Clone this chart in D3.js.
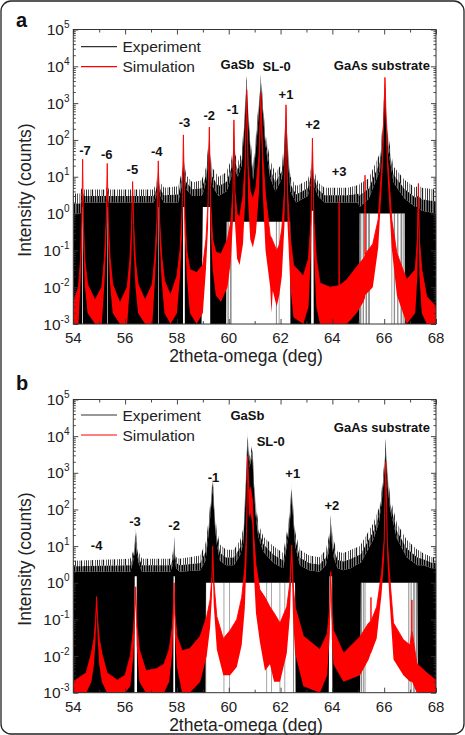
<!DOCTYPE html>
<html>
<head>
<meta charset="utf-8">
<script src="https://cdn.jsdelivr.net/npm/d3@7"></script>
<style>
  body { margin: 0; background: #fff; }
  svg { display: block; font-family: "Liberation Sans", Arial, sans-serif; }
</style>
</head>
<body>
<div id="chart"></div>
<script>
// ---- data ----
const xTickValues = [54, 56, 58, 60, 62, 64, 66, 68];
const yExponents = [-3, -2, -1, 0, 1, 2, 3, 4, 5];
const legendItems = [["Experiment", "#333"], ["Simulation", "#ff0000"]];

// experiment: [2theta, noise top, dense top, lower edge]
const expA = [
  [54.00, 3.5, 1, 0.001], [54.28, 3.5, 1, 0.001], [54.30, 4.5, 2, 0.001],
  [54.345, 5, 2.5, 0.001], [54.35, 5.4, 3, 1.5], [54.37, 5.4, 3, 1.5], [54.375, 5, 2.5, 0.001],
  [54.42, 4.5, 2, 0.001], [55.25, 4.5, 2, 0.001], [55.30, 5.4, 3, 0.001], [55.305, 5.4, 3, 1.5],
  [55.32, 5.4, 3, 1.5], [55.325, 5.4, 3, 0.001], [55.37, 4.5, 2, 0.001], [57.10, 4.5, 2, 0.001],
  [57.20, 7, 3, 0.001], [57.27, 14, 6, 0.001], [57.275, 16, 7, 1.5], [57.29, 18, 9, 1.5],
  [57.295, 12, 6, 0.001], [57.36, 7, 3, 0.001], [57.50, 5, 2, 0.001], [58.05, 5.5, 2, 0.001],
  [58.17, 12, 5, 0.001], [58.235, 28, 13, 0.001], [58.24, 30, 14, 1.5], [58.25, 59, 30, 1.5],
  [58.30, 20, 10, 1.5], [58.305, 18, 9, 0.001], [58.36, 11, 4.5, 0.001], [58.60, 7, 3, 0.001],
  [58.95, 8, 3, 0.001], [59.00, 10, 3.5, 1.5], [59.12, 18, 7, 1.5], [59.20, 60, 25, 1.5],
  [59.25, 220, 110, 1.5], [59.28, 60, 25, 1.5], [59.285, 55, 22, 0.001], [59.35, 18, 6, 0.001],
  [59.60, 10, 3, 0.001], [59.90, 13, 4, 0.001], [59.92, 14, 4, 0.6], [60.10, 30, 10, 0.6],
  [60.16, 60, 25, 0.6], [60.20, 350, 170, 0.6], [60.25, 40, 15, 0.6], [60.35, 25, 10, 0.6],
  [60.50, 45, 20, 0.6], [60.60, 400, 200, 0.6], [60.69, 5500, 3000, 0.6], [60.80, 200, 100, 0.6],
  [60.94, 19, 8, 0.6], [61.10, 350, 150, 0.6], [61.24, 5900, 3000, 0.6], [61.40, 185, 90, 0.6],
  [61.59, 29, 10, 0.6], [61.80, 12.6, 4, 0.6], [62.05, 23, 9, 0.6], [62.14, 80, 35, 0.6],
  [62.21, 900, 450, 0.6], [62.29, 60, 25, 0.6], [62.37, 12, 5, 0.6], [62.38, 10, 4, 0.001],
  [62.60, 5.5, 2, 0.001], [63.05, 8, 3, 0.001], [63.18, 18, 7, 0.001], [63.19, 20, 8, 1.2],
  [63.23, 54, 25, 1.2], [63.27, 18, 7, 1.2], [63.28, 16, 6, 0.001], [63.45, 7, 3, 0.001],
  [63.70, 5, 2, 0.001], [64.60, 5, 2, 0.001], [65.00, 6, 2, 0.001], [65.04, 6, 1.5, 0.001],
  [65.05, 6.5, 1.5, 1], [65.40, 9, 2.5, 1], [65.84, 44, 15, 1], [65.95, 350, 150, 1],
  [66.03, 5000, 2500, 1], [66.10, 350, 150, 1], [66.16, 123, 50, 1], [66.36, 19, 7, 1],
  [66.80, 8, 2.5, 1], [66.81, 8, 2.5, 0.001], [67.20, 5, 1.5, 0.001], [67.32, 6, 1.5, 0.001],
  [67.45, 5, 1.2, 0.001], [68.00, 4.5, 1, 0.001]
];

// simulation: [2theta, upper edge, lower edge]
const simA = [
  [54.00, 0.004, 0.001], [54.20, 0.010, 0.001], [54.28, 0.06, 0.012], [54.33, 0.6, 0.15],
  [54.36, 30, 10], [54.39, 0.6, 0.15], [54.44, 0.06, 0.012], [54.55, 0.012, 0.002],
  [54.84, 0.0045, 0.001], [55.10, 0.010, 0.001], [55.20, 0.06, 0.012], [55.27, 0.6, 0.15],
  [55.31, 23, 8], [55.35, 0.6, 0.15], [55.42, 0.06, 0.012], [55.52, 0.012, 0.002],
  [55.80, 0.0037, 0.001], [56.08, 0.010, 0.001], [56.18, 0.05, 0.01], [56.25, 0.5, 0.1],
  [56.29, 7.4, 3], [56.33, 0.5, 0.1], [56.40, 0.05, 0.01], [56.50, 0.012, 0.002],
  [56.77, 0.0045, 0.001], [57.05, 0.012, 0.001], [57.15, 0.07, 0.015], [57.23, 0.7, 0.2],
  [57.28, 27, 9], [57.33, 0.7, 0.2], [57.41, 0.07, 0.015], [57.52, 0.015, 0.002],
  [57.75, 0.006, 0.001], [58.00, 0.02, 0.002], [58.12, 0.1, 0.02], [58.20, 1.2, 0.3],
  [58.25, 137, 50], [58.30, 1.2, 0.3], [58.38, 0.1, 0.02], [58.50, 0.03, 0.002],
  [58.76, 0.025, 0.001], [59.00, 0.04, 0.002], [59.12, 0.2, 0.03], [59.20, 2, 0.4],
  [59.25, 225, 80], [59.30, 2, 0.4], [59.38, 0.2, 0.03], [59.50, 0.09, 0.006],
  [59.70, 0.08, 0.004], [59.95, 0.2, 0.01], [60.08, 0.6, 0.05], [60.16, 4, 0.6],
  [60.20, 350, 120], [60.24, 4, 0.6], [60.32, 1.0, 0.06], [60.42, 0.8, 0.04],
  [60.55, 3, 0.15], [60.63, 20, 2], [60.69, 2300, 800], [60.75, 20, 2],
  [60.83, 4, 0.2], [60.93, 2.5, 0.12], [61.05, 5, 0.3], [61.17, 40, 4],
  [61.24, 1900, 600], [61.31, 40, 4], [61.42, 3, 0.1], [61.60, 0.25, 0.01],
  [61.65, 0.22, 0.002], [61.70, 0.18, 0.008], [61.85, 0.1, 0.003], [61.95, 0.14, 0.006],
  [62.05, 0.4, 0.02], [62.15, 4, 0.5], [62.21, 900, 300],
  [62.27, 4, 0.5], [62.38, 0.2, 0.01], [62.50, 0.04, 0.0015], [62.88, 0.02, 0.001],
  [63.08, 0.06, 0.003], [63.17, 0.6, 0.08], [63.23, 112, 40], [63.29, 0.6, 0.08],
  [63.38, 0.06, 0.003], [63.52, 0.013, 0.001], [63.91, 0.01, 0.001], [64.255, 0.011, 0.001],
  [64.26, 2.1, 0.001], [64.265, 0.011, 0.001], [64.56, 0.016, 0.001], [64.94, 0.036, 0.002],
  [65.20, 0.06, 0.004], [65.255, 0.07, 0.005], [65.26, 11, 0.005], [65.265, 0.08, 0.006],
  [65.56, 0.15, 0.01], [65.77, 0.7, 0.12], [65.94, 44, 15], [65.99, 500, 200],
  [66.03, 5000, 2000], [66.07, 500, 200], [66.12, 44, 15], [66.29, 0.7, 0.12],
  [66.49, 0.085, 0.006], [66.87, 0.016, 0.001], [67.20, 0.03, 0.002], [67.28, 0.2, 0.02],
  [67.32, 6.6, 1], [67.36, 0.2, 0.02], [67.45, 0.03, 0.002], [67.64, 0.0055, 0.001],
  [68.00, 0.003, 0.001]
];

// ranges where the experiment trace only drops out now and then (grey stripes)
const greyA = [
  [59.95, 60.0], [60.05, 60.11], [61.82, 61.86], [61.93, 61.96], [65.05, 65.12], [65.17, 65.22],
  [65.28, 65.34], [65.38, 65.45], [66.28, 66.31], [66.37, 66.42], [66.5, 66.55], [66.63, 66.7],
  [66.74, 66.79]
];

// peak labels: [text, 2theta, intensity at baseline]
const peakLabelsA = [
  ["-7", 54.45, 39], ["-6", 55.29, 30.5], ["-5", 56.28, 11.9], ["-4", 57.22, 36.7],
  ["-3", 58.29, 225], ["-2", 59.25, 349], ["-1", 60.15, 493], ["GaSb", 60.34, 8240],
  ["SL-0", 61.85, 7500], ["+1", 62.21, 1300], ["+2", 63.24, 193], ["+3", 64.26, 10.5],
  ["GaAs substrate", 65.91, 7740]
];

const expB = [
  [54.00, 4, 2, 0.001], [56.20, 4.5, 2, 0.001], [56.30, 7, 3.5, 0.001], [56.36, 12, 6, 0.001],
  [56.37, 13, 6, 1.5], [56.41, 31, 16, 1.5], [56.45, 13, 6, 1.5], [56.46, 12, 6, 0.001],
  [56.52, 7, 3.5, 0.001], [56.65, 4.5, 2, 0.001], [57.75, 4.5, 2, 0.001], [57.83, 6, 3, 0.001],
  [57.86, 9, 4.5, 0.001], [57.87, 10, 5, 1.5], [57.89, 18, 9, 1.5], [57.92, 9, 4.5, 1.5],
  [57.93, 8, 4, 0.001], [57.97, 5, 2.5, 0.001], [58.10, 4.5, 2, 0.001], [58.90, 5.5, 2.2, 0.001],
  [59.10, 12, 4, 0.001], [59.12, 14, 5, 1], [59.21, 43, 18, 1], [59.30, 180, 80, 1],
  [59.38, 780, 400, 1], [59.46, 90, 40, 1], [59.54, 27, 11, 1], [59.66, 11, 4, 1],
  [59.90, 8, 3, 1], [60.20, 8, 3, 1], [60.45, 15, 6, 1], [60.56, 30, 12, 1],
  [60.64, 340, 150, 1], [60.73, 14000, 7000, 1], [60.80, 2800, 1400, 1], [60.91, 5700, 3000, 1],
  [60.97, 900, 400, 1], [61.03, 180, 80, 1], [61.14, 42, 18, 1], [61.34, 18, 7, 1],
  [61.72, 10, 3.5, 1], [62.10, 6.5, 2.5, 1], [62.30, 43, 18, 1], [62.38, 150, 70, 1],
  [62.43, 520, 260, 1], [62.49, 110, 50, 1], [62.56, 27, 11, 1], [62.58, 22, 9, 0.001],
  [62.75, 8, 3, 0.001], [63.10, 5.5, 2.2, 0.001], [63.50, 5, 2, 0.001], [63.75, 8, 3, 0.001],
  [63.86, 18, 7, 0.001], [63.89, 25, 10, 1.5], [63.94, 70, 35, 1.5], [63.99, 25, 10, 1.5],
  [64.00, 22, 9, 0.001], [64.05, 14, 5, 0.001], [64.20, 7, 2.5, 0.001], [64.43, 6.5, 2.2, 0.001],
  [64.70, 7.8, 2.5, 0.001], [65.07, 10, 3.5, 0.001], [65.10, 11, 3.5, 1], [65.58, 42, 15, 1],
  [65.80, 110, 45, 1], [65.90, 340, 150, 1], [65.99, 1500, 700, 1], [66.06, 8700, 4000, 1],
  [66.13, 1000, 450, 1], [66.23, 220, 100, 1], [66.49, 42, 16, 1], [66.87, 15, 5, 1],
  [67.28, 8, 3, 1], [67.30, 8, 3, 0.001], [67.51, 6.4, 3, 0.001], [67.84, 5, 2.5, 0.001],
  [68.00, 5, 2.5, 0.001]
];

const simB = [
  [54.00, 0.002, 0.001], [54.50, 0.0035, 0.001], [54.70, 0.012, 0.002], [54.80, 0.03, 0.006],
  [54.86, 0.1, 0.03], [54.90, 0.42, 0.2], [54.94, 0.1, 0.03], [55.00, 0.03, 0.006],
  [55.10, 0.012, 0.002], [55.30, 0.0035, 0.001], [55.70, 0.0022, 0.001], [56.00, 0.003, 0.001],
  [56.20, 0.01, 0.0015], [56.32, 0.05, 0.01], [56.38, 0.25, 0.08], [56.41, 0.78, 0.4],
  [56.45, 0.08, 0.02], [56.55, 0.015, 0.002], [56.80, 0.004, 0.001], [57.20, 0.0045, 0.001],
  [57.50, 0.006, 0.001], [57.70, 0.015, 0.002], [57.82, 0.06, 0.012], [57.87, 0.3, 0.1],
  [57.89, 1.0, 0.5], [57.92, 0.15, 0.04], [58.00, 0.035, 0.005], [58.20, 0.014, 0.001],
  [58.50, 0.016, 0.001], [58.90, 0.035, 0.002], [59.15, 0.12, 0.01], [59.28, 0.34, 0.06],
  [59.35, 1.5, 0.4], [59.38, 10, 4], [59.42, 1.2, 0.25], [59.54, 0.12, 0.015],
  [59.79, 0.03, 0.003], [60.05, 0.05, 0.003], [60.31, 0.1, 0.005], [60.50, 0.4, 0.02],
  [60.62, 2.5, 0.2], [60.69, 30, 5], [60.73, 2800, 1000], [60.78, 300, 60],
  [60.84, 400, 80], [60.91, 180, 40], [60.97, 18, 2], [61.05, 3, 0.15],
  [61.20, 0.65, 0.025], [61.40, 0.4, 0.004], [61.59, 0.22, 0.006], [61.75, 0.15, 0.002],
  [61.98, 0.08, 0.002], [62.24, 0.22, 0.012],
  [62.36, 1.0, 0.12], [62.43, 10.7, 4], [62.48, 1.0, 0.12], [62.56, 0.22, 0.012],
  [62.88, 0.035, 0.0015], [63.52, 0.015, 0.001], [63.80, 0.04, 0.003], [63.90, 0.2, 0.04],
  [63.94, 2, 0.8], [63.98, 0.15, 0.03], [64.04, 0.05, 0.006], [64.43, 0.012, 0.002],
  [65.07, 0.034, 0.003], [65.40, 0.08, 0.008], [65.485, 0.09, 0.012], [65.49, 0.4, 0.012],
  [65.495, 0.09, 0.012], [65.71, 0.22, 0.03], [65.90, 1.9, 0.5], [66.00, 15, 5],
  [66.06, 2000, 800], [66.12, 15, 5], [66.20, 1.9, 0.4], [66.36, 0.08, 0.008],
  [66.74, 0.028, 0.003], [67.00, 0.02, 0.002], [67.065, 0.05, 0.002], [67.07, 0.34, 0.002],
  [67.075, 0.05, 0.002], [67.26, 0.0063, 0.001], [67.64, 0.0035, 0.001], [68.00, 0.0022, 0.001]
];

const greyB = [
  [59.1, 59.13], [59.8, 59.83], [60.02, 60.05], [61.45, 61.48], [61.64, 61.67], [61.96, 61.99],
  [62.15, 62.18], [62.48, 62.52], [65.1, 65.15], [65.19, 65.24], [65.28, 65.3], [66.93, 66.97],
  [67.02, 67.06], [67.12, 67.18], [67.22, 67.27]
];

const peakLabelsB = [
  ["-4", 54.9, 7.8], ["-3", 56.38, 35], ["-2", 57.89, 27.3], ["-1", 59.41, 556],
  ["GaSb", 60.72, 28100], ["SL-0", 61.62, 5500], ["+1", 62.47, 714], ["+2", 63.98, 99],
  ["GaAs substrate", 65.91, 12800]
];

// ---- layout ----
const W = 465, H = 735;
const plotLeft = 73.3, plotRight = 436;

const panels = [
  { name: "a", top: 29.5, bottom: 324, exp: expA, sim: simA, grey: greyA, labels: peakLabelsA,
    letterY: 27, legendY: 17.2, xTitleY: 362, yTitleY: 190 },
  { name: "b", top: 399.5, bottom: 692.7, exp: expB, sim: simB, grey: greyB, labels: peakLabelsB,
    letterY: 390, legendY: 15.5, xTitleY: 731, yTitleY: 559 }
];

const svg = d3.select("#chart").append("svg")
  .attr("width", W)
  .attr("height", H);

svg.append("rect")
  .attr("x", 1).attr("y", 1)
  .attr("width", W - 2).attr("height", H - 2)
  .attr("rx", 10)
  .attr("fill", "#fff")
  .attr("stroke", "#222")
  .attr("stroke-width", 1.3);

const defs = svg.append("defs");

// vertical hairline textures for the noisy edge of the experiment trace
function hatch(id, width, bars) {
  const pt = defs.append("pattern")
    .attr("id", id)
    .attr("patternUnits", "userSpaceOnUse")
    .attr("width", width).attr("height", 4);
  bars.forEach(([px, pw]) => {
    pt.append("rect").attr("x", px).attr("y", 0).attr("width", pw).attr("height", 4).attr("fill", "#000");
  });
}
hatch("noiseDense", 7, [[0, 1.6], [2.0, 1.3], [3.7, 1.8], [5.9, 0.8]]);
hatch("noiseSparse", 11, [[0, 0.7], [2.6, 0.6], [4.1, 1.0], [7.3, 0.6], [9.2, 0.8]]);

const x = d3.scaleLinear().domain([54, 68]).range([plotLeft, plotRight]);

const majorY = yExponents.map(e => Math.pow(10, e));
const minorY = [];
yExponents.slice(0, -1).forEach(e => {
  for (let m = 2; m <= 9; m++) minorY.push(m * Math.pow(10, e));
});
const minorX = d3.range(55, 68, 2);

function drawPanel(p) {
  const y = d3.scaleLog().domain([1e-3, 1e5]).range([p.bottom, p.top]).clamp(true);
  const g = svg.append("g");

  const clipId = "clip-" + p.name;
  defs.append("clipPath").attr("id", clipId)
    .append("rect")
    .attr("x", plotLeft).attr("y", p.top)
    .attr("width", plotRight - plotLeft).attr("height", p.bottom - p.top);

  const plot = g.append("g").attr("clip-path", `url(#${clipId})`);

  // grey stripes (sparse zero counts)
  plot.selectAll("rect.grey")
    .data(p.grey)
    .join("rect")
    .attr("class", "grey")
    .attr("x", d => x(d[0]))
    .attr("width", d => x(d[1]) - x(d[0]))
    .attr("y", y(1))
    .attr("height", p.bottom - y(1))
    .attr("fill", "#000")
    .attr("opacity", 0.45);

  // experiment noise: sparse outer part, denser inner part, solid core
  const mid = d => Math.sqrt(d[1] * d[2]);
  plot.append("path")
    .datum(p.exp)
    .attr("d", d3.area().x(d => x(d[0])).y0(d => y(mid(d))).y1(d => y(d[1])))
    .attr("fill", "url(#noiseSparse)");

  plot.append("path")
    .datum(p.exp)
    .attr("d", d3.area().x(d => x(d[0])).y0(d => y(d[2])).y1(d => y(mid(d))))
    .attr("fill", "url(#noiseDense)");

  plot.append("path")
    .datum(p.exp)
    .attr("d", d3.area().x(d => x(d[0])).y0(d => y(d[3])).y1(d => y(d[2])))
    .attr("fill", "#000");

  // simulation
  plot.append("path")
    .datum(p.sim)
    .attr("d", d3.area().x(d => x(d[0])).y0(d => y(d[2])).y1(d => y(d[1])))
    .attr("fill", "#ff0000");

  plot.append("path")
    .datum(p.sim)
    .attr("d", d3.line().x(d => x(d[0])).y(d => y(d[1])))
    .attr("fill", "none")
    .attr("stroke", "#ff0000")
    .attr("stroke-width", 0.9);

  // ticks, all pointing inwards
  const tickGroups = [
    [d3.axisLeft(y).tickValues(majorY).tickSize(-5), `translate(${plotLeft},0)`],
    [d3.axisLeft(y).tickValues(minorY).tickSize(-2.5), `translate(${plotLeft},0)`],
    [d3.axisRight(y).tickValues(majorY).tickSize(-5), `translate(${plotRight},0)`],
    [d3.axisRight(y).tickValues(minorY).tickSize(-2.5), `translate(${plotRight},0)`],
    [d3.axisBottom(x).tickValues(xTickValues).tickSize(-5), `translate(0,${p.bottom})`],
    [d3.axisBottom(x).tickValues(minorX).tickSize(-3), `translate(0,${p.bottom})`],
    [d3.axisTop(x).tickValues(xTickValues).tickSize(-5), `translate(0,${p.top})`],
    [d3.axisTop(x).tickValues(minorX).tickSize(-3), `translate(0,${p.top})`]
  ];
  tickGroups.forEach(([axis, tr]) => {
    g.append("g")
      .attr("transform", tr)
      .call(axis.tickFormat(""))
      .call(s => s.select(".domain").remove())
      .call(s => s.selectAll("line").attr("stroke", "#333").attr("stroke-width", 0.9));
  });

  g.append("rect")
    .attr("x", plotLeft).attr("y", p.top)
    .attr("width", plotRight - plotLeft).attr("height", p.bottom - p.top)
    .attr("fill", "none")
    .attr("stroke", "#333")
    .attr("stroke-width", 1);

  // y tick labels 10^n
  const yl = g.selectAll("text.ylab")
    .data(yExponents)
    .join("text")
    .attr("class", "ylab")
    .attr("x", 69.5)
    .attr("y", e => y(Math.pow(10, e)) + 5.5)
    .attr("text-anchor", "end")
    .attr("font-size", 15.5)
    .attr("fill", "#222");
  yl.append("tspan").text("10");
  yl.append("tspan").attr("dy", -7).attr("font-size", 10).text(e => e < 0 ? "-" + (-e) : e);

  // x tick labels
  g.selectAll("text.xlab")
    .data(xTickValues)
    .join("text")
    .attr("class", "xlab")
    .attr("x", d => x(d))
    .attr("y", p.bottom + 19)
    .attr("text-anchor", "middle")
    .attr("font-size", 15)
    .attr("fill", "#222")
    .text(d => d);

  g.append("text")
    .attr("x", 246)
    .attr("y", p.xTitleY)
    .attr("text-anchor", "middle")
    .attr("font-size", 17.5)
    .attr("fill", "#222")
    .text("2theta-omega (deg)");

  g.append("text")
    .attr("transform", `translate(30.5,${p.yTitleY}) rotate(-90)`)
    .attr("text-anchor", "middle")
    .attr("font-size", 17.5)
    .attr("fill", "#222")
    .text("Intensity (counts)");

  // panel letter
  g.append("text")
    .attr("x", 16)
    .attr("y", p.letterY)
    .attr("font-size", 20)
    .attr("font-weight", "bold")
    .attr("fill", "#111")
    .text(p.name);

  // peak labels
  g.selectAll("text.peak")
    .data(p.labels)
    .join("text")
    .attr("class", "peak")
    .attr("x", d => x(d[1]))
    .attr("y", d => y(d[2]))
    .attr("text-anchor", "middle")
    .attr("font-size", 13)
    .attr("font-weight", "bold")
    .attr("fill", "#111")
    .text(d => d[0]);

  // legend
  const leg = g.selectAll("g.leg")
    .data(legendItems)
    .join("g")
    .attr("class", "leg")
    .attr("transform", (d, i) => `translate(0,${p.top + p.legendY + i * 20})`);
  leg.append("line")
    .attr("x1", 81).attr("x2", 117)
    .attr("stroke", d => d[1])
    .attr("stroke-width", 1.2);
  leg.append("text")
    .attr("x", 122.5)
    .attr("y", 5.5)
    .attr("font-size", 15.5)
    .attr("fill", "#222")
    .text(d => d[0]);
}

panels.forEach(drawPanel);
</script>
</body>
</html>
